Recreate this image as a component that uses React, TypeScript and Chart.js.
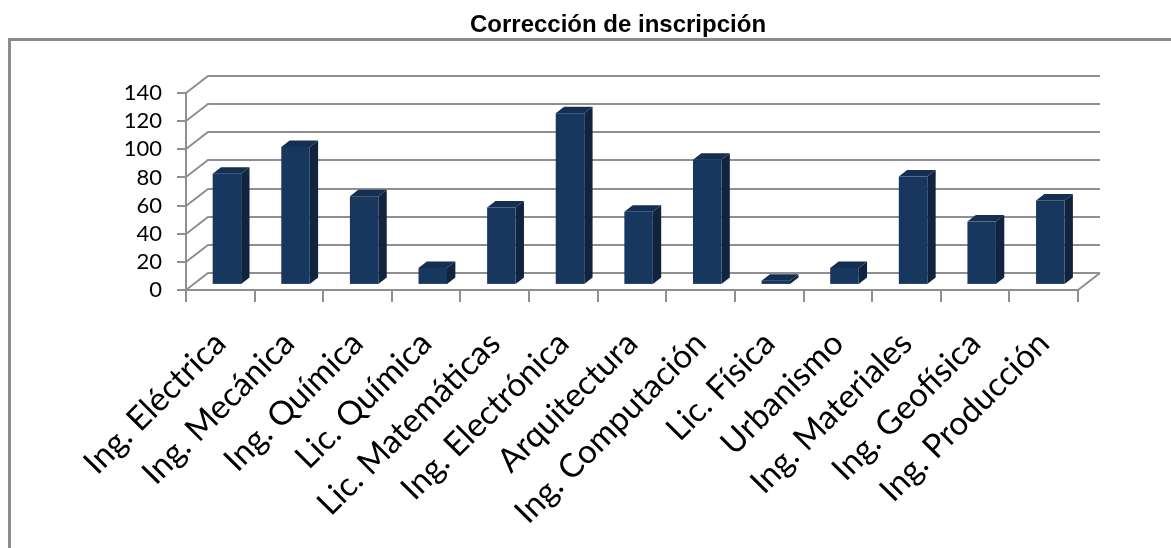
import React, { useEffect, useRef } from "react";
import { Chart, registerables } from "chart.js";

Chart.register(...registerables);

const chartTitle = "Corrección de inscripción";
const categories = [
  "Ing. Eléctrica",
  "Ing. Mecánica",
  "Ing. Química",
  "Lic. Química",
  "Lic. Matemáticas",
  "Ing. Electrónica",
  "Arquitectura",
  "Ing. Computación",
  "Lic. Física",
  "Urbanismo",
  "Ing. Materiales",
  "Ing. Geofísica",
  "Ing. Producción",
];
const values = [79, 98, 63, 12, 55, 122, 52, 89, 3, 12, 77, 45, 60];
const yMin = 0;
const yMax = 140;
const yStep = 20;

const DX = 22;
const DY = -17;
const BAR_FRONT = 0.3;
const BAR_BACK = 0.68;
const GRID = "#8f8f8f";
const LABEL_FONT = "Lato, 'Open Sans', sans-serif";

const framePlugin = {
  id: "frame",
  beforeDraw(chart: any) {
    const ctx = chart.ctx;
    ctx.save();
    ctx.fillStyle = "#ffffff";
    ctx.fillRect(0, 0, chart.width, chart.height);
    ctx.strokeStyle = "#8c8c8c";
    ctx.lineWidth = 3;
    ctx.strokeRect(9.5, 39.5, chart.width + 40, chart.height + 40);
    ctx.fillStyle = "#000000";
    ctx.font = "bold 24px 'Liberation Sans', Arial, sans-serif";
    ctx.textAlign = "center";
    ctx.textBaseline = "alphabetic";
    ctx.fillText(chartTitle, 618, 32);
    ctx.restore();
  },
};

const wallPlugin = {
  id: "walls",
  beforeDatasetsDraw(chart: any) {
    const ctx = chart.ctx;
    const ys = chart.scales.y;
    const { left, right, bottom } = chart.chartArea;
    ctx.save();
    ctx.strokeStyle = GRID;
    ctx.lineWidth = 2;
    ctx.beginPath();
    ys.ticks.forEach((t: any) => {
      const py = Math.round(ys.getPixelForValue(t.value));
      ctx.moveTo(left, py);
      ctx.lineTo(left + DX, py + DY);
      ctx.lineTo(right + DX, py + DY);
    });
    ctx.moveTo(right, bottom);
    ctx.lineTo(right + DX, bottom + DY);
    ctx.stroke();
    ctx.restore();
  },
};

const bars3dPlugin = {
  id: "bars3d",
  afterDatasetsDraw(chart: any) {
    const ctx = chart.ctx;
    const meta = chart.getDatasetMeta(0);
    const ddx = DX * (BAR_BACK - BAR_FRONT);
    const ddy = DY * (BAR_BACK - BAR_FRONT);
    ctx.save();
    meta.data.forEach((bar: any) => {
      const { x, y, base, width } = bar.getProps(["x", "y", "base", "width"], true);
      const fx = x - width / 2 + DX * BAR_FRONT;
      const fy = y + DY * BAR_FRONT;
      const fb = base + DY * BAR_FRONT;
      const rx = fx + width;
      ctx.fillStyle = "#10243f";
      ctx.beginPath();
      ctx.moveTo(rx, fy);
      ctx.lineTo(rx + ddx, fy + ddy);
      ctx.lineTo(rx + ddx, fb + ddy);
      ctx.lineTo(rx, fb);
      ctx.closePath();
      ctx.fill();
      ctx.fillStyle = "#142f52";
      ctx.beginPath();
      ctx.moveTo(fx, fy);
      ctx.lineTo(fx + ddx, fy + ddy);
      ctx.lineTo(rx + ddx, fy + ddy);
      ctx.lineTo(rx, fy);
      ctx.closePath();
      ctx.fill();
      ctx.fillStyle = "#17375e";
      ctx.fillRect(fx, fy, width, fb - fy);
    });
    ctx.restore();
  },
};

export default function App() {
  const ref = useRef<HTMLCanvasElement | null>(null);

  useEffect(() => {
    if (!ref.current) return;
    const chart = new Chart(ref.current, {
      type: "bar",
      data: {
        labels: categories,
        datasets: [
          {
            data: values,
            backgroundColor: "rgba(0,0,0,0)",
            borderWidth: 0,
            categoryPercentage: 1,
            barPercentage: 0.415,
          },
        ],
      },
      options: {
        responsive: false,
        animation: false,
        layout: { padding: { left: 0, right: 93, top: 93, bottom: 0 } },
        plugins: {
          legend: { display: false },
          tooltip: { enabled: false },
          title: { display: false },
        },
        scales: {
          x: {
            grid: {
              display: true,
              drawOnChartArea: false,
              drawTicks: true,
              tickLength: 12,
              color: GRID,
              lineWidth: 2,
              offset: true,
            },
            border: { display: true, color: GRID, width: 2 },
            ticks: {
              autoSkip: false,
              minRotation: 45,
              maxRotation: 45,
              color: "#000",
              font: { family: LABEL_FONT, size: 33 },
              padding: 22,
            },
            afterFit: (s: any) => {
              s.height = 258;
            },
          },
          y: {
            min: yMin,
            max: yMax,
            grid: {
              display: true,
              drawOnChartArea: false,
              drawTicks: true,
              tickLength: 9,
              color: GRID,
              lineWidth: 2,
            },
            border: { display: true, color: GRID, width: 2 },
            ticks: {
              stepSize: yStep,
              autoSkip: false,
              color: "#000",
              font: { family: LABEL_FONT, size: 22 },
              padding: 15,
            },
            afterFit: (s: any) => {
              s.width = 186;
            },
          },
        },
      },
      plugins: [framePlugin, wallPlugin, bars3dPlugin],
    });
    return () => chart.destroy();
  }, []);

  return (
    <div style={{ position: "fixed", left: 0, top: 0, width: 1171, height: 548 }}>
      <canvas ref={ref} width={1171} height={548} style={{ display: "block" }} />
    </div>
  );
}
